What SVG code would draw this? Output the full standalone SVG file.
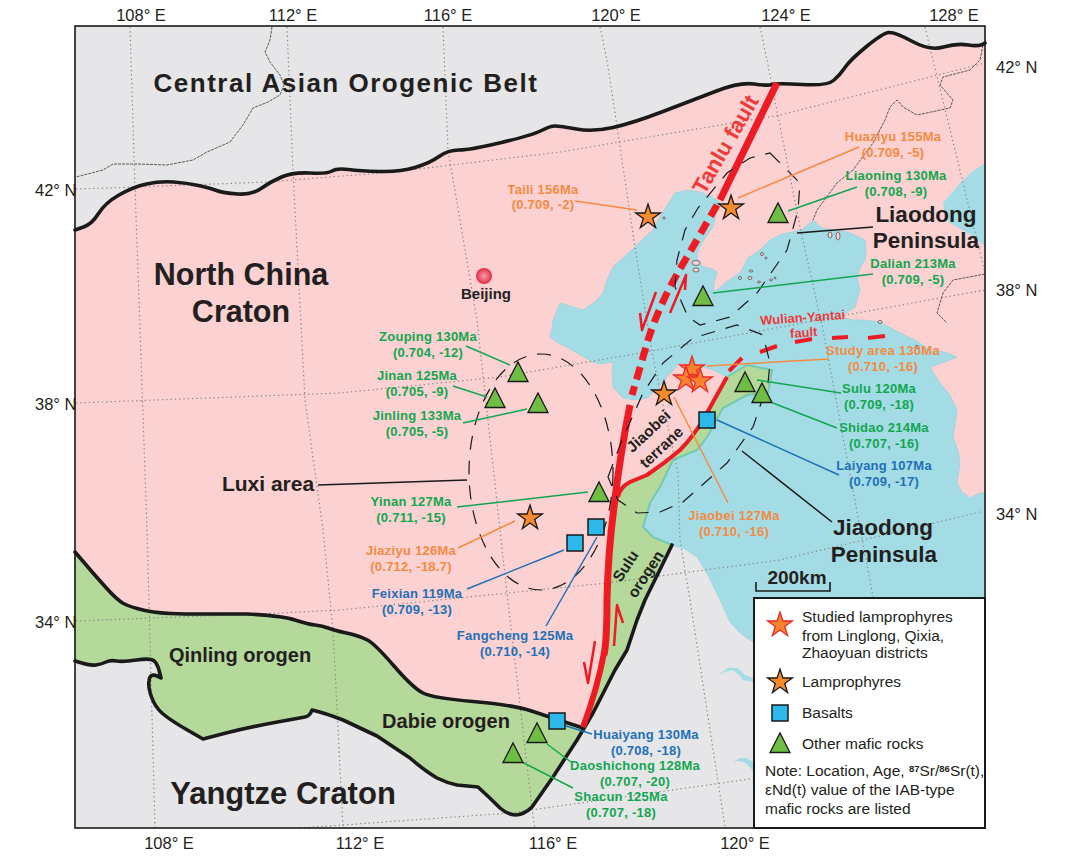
<svg xmlns="http://www.w3.org/2000/svg" width="1073" height="866" viewBox="0 0 1073 866">
<style>
text{font-family:"Liberation Sans",Arial,sans-serif;fill:#231f20}
.ax{font-size:16.5px}
.m{text-anchor:middle}
.lb{font-size:13px;font-weight:700;text-anchor:middle;letter-spacing:.25px}
.o{fill:#f58a42}.g{fill:#12a650}.b{fill:#1f70b6}
.big{font-weight:700;text-anchor:middle}
.lg{font-size:15.5px;fill:#231f20}
.grid{fill:none;stroke:#858585;stroke-width:1.2;stroke-dasharray:1.3 3}
.bd{fill:none;stroke:#4a4a4a;stroke-width:.9;stroke-dasharray:3 1}
.blk{fill:none;stroke:#1a1a1a;stroke-width:3.6;stroke-linejoin:round;stroke-linecap:round}
.red{fill:none;stroke:#ed1c24;stroke-linejoin:round}
.ell{fill:none;stroke:#1a1a1a;stroke-width:1.2;stroke-dasharray:14 11}
.lo,.lg1,.lb1,.lk{fill:none;stroke-width:1.5}
.lo{stroke:#f58a42}.lg1{stroke:#12a650}.lb1{stroke:#1f70b6}.lk{stroke:#1a1a1a}
.st{fill:#f68b2e;stroke:#1a1a1a;stroke-width:1.3;stroke-linejoin:miter}
.sr{fill:#f6832e;stroke:#ed2a2a;stroke-width:1.3}
.tr{fill:#6fbe44;stroke:#1a1a1a;stroke-width:1.3}
.sq{fill:#2cb9ea;stroke:#1a1a1a;stroke-width:1.5}
</style>
<defs>
<polygon id="star" points="0,-13 2.9,-4 12.4,-4 4.7,1.5 7.6,10.5 0,5 -7.6,10.5 -4.7,1.5 -12.4,-4 -2.9,-4"/>
<polygon id="tri" points="-10,9.5 0,-10 10,9.5"/>
<rect id="sq" x="-8" y="-8" width="16" height="16"/>
<radialGradient id="bj" cx=".5" cy=".5" r=".55"><stop offset="0" stop-color="#f9a0a8"/><stop offset="1" stop-color="#e01f3d"/></radialGradient>
</defs>
<rect width="1073" height="866" fill="#fff"/>
<g id="map">
<rect x="75" y="26" width="910" height="802" fill="#e6e6e8"/>
<path id="ncc" fill="#fbd1d1" d="M75,230L92,224L105,203L133,187L160,181L187,183L210,188L223,193L252,195L270,182L293,172L327,174L337,168L360,171L400,172L430,163L448,150L470,150L533,135L550,126L560,126L593,132L633,123L693,100L740,82L768,86L777,83L827,86L840,75L850,60L883,33L895,32L930,51L957,43L980,47L985,43L985,600L700,520L672,545L645,600L637,620L627,650L615,670L593,713L583,728L550,717L513,705L433,698L413,688L375,644L360,636L333,630L323,626L307,624L283,616L247,614L193,614L160,614L130,607L117,600L93,573L75,552Z"/>
<path id="sea" fill="#a4dce6" stroke="#8fcfdb" stroke-width=".6" d="M675,193L688,190L700,192L712,197L720,202L716,215L713,227L705,238L698,250L697,258L703,267L713,269L717,272L714,283L713,293L703,299L693,300L704,292L717,290L726,282L740,273L748,258L760,250L770,240L782,234L793,232L803,229L813,220L822,228L833,230L848,232L865,240L866,250L865,260L860,268L857,277L860,290L855,307L848,312L843,317L852,320L863,320L880,322L900,333L915,340L930,350L945,352L957,357L945,362L930,367L935,375L940,383L950,395L957,410L955,425L953,437L958,450L960,463L957,483L962,492L970,498L980,493L985,493L985,642L753,642L740,633L730,622L720,600L708,575L697,557L685,549L672,545L653,537L645,532L643,527L647,515L650,503L660,487L667,472L673,460L685,455L697,450L703,444L707,437L713,420L723,408L735,402L747,395L768,393L771,380L772,370L760,368L747,365L727,377L713,370L700,366L680,363L667,377L658,388L647,398L635,400L623,398L613,387L612,375L613,362L600,364L593,362L580,355L567,347L558,343L550,337L552,328L553,320L560,303L570,306L583,310L595,302L603,293L607,280L613,267L625,256L635,247L645,237L653,230L657,222L660,217L668,204Z"/>
<path fill="#a4dce6" d="M985,163L972,172L960,183L950,195L943,203L945,215L950,223L962,230L975,237L985,247Z"/>
<path fill="#a4dce6" d="M717,676L725,672L733,670L740,676L743,680L753,682L753,678L745,675L738,668L728,668Z"/>
<path fill="#a4dce6" d="M733,762L740,758L747,758L753,762L753,771L746,763L738,761Z"/>
<g fill="#fbd1d1" stroke="#444" stroke-width=".7">
<circle cx="664" cy="218" r="1.2"/><ellipse cx="696" cy="263" rx="4" ry="2.5"/><ellipse cx="696" cy="270" rx="3" ry="2"/><circle cx="762" cy="254" r="1.5"/><circle cx="766" cy="258" r="1"/><ellipse cx="751" cy="271" rx="2" ry="1"/><ellipse cx="750" cy="278" rx="2" ry="1.5"/><circle cx="740" cy="278" r="1.5"/><ellipse cx="771" cy="280" rx="1.5" ry="1"/><ellipse cx="759" cy="282" rx="1.5" ry="1"/><circle cx="775" cy="278" r="1"/><ellipse cx="830" cy="235" rx="2" ry="3"/><ellipse cx="838" cy="236" rx="2" ry="4"/><ellipse cx="880" cy="322" rx="2" ry="1.5"/><ellipse cx="917" cy="347" rx="2" ry="1.5"/>
</g>
<path fill="#b5d99a" stroke="#76c8ae" stroke-width="2" stroke-linejoin="round" d="M618,497L623,485L647,475L680,450L703,420L727,377L747,365L772,370L768,393L747,395L723,408L707,437L697,450L673,460L660,487L650,503L643,527L653,537L672,545L645,600L637,620L627,650L615,670L593,713L583,728L597,683L605,650L608,600L608,553L613,507Z"/>
<path fill="#b5d99a" stroke="#76c8ae" stroke-width="1" d="M75,552L93,573L117,600L130,607L160,614L193,614L247,614L283,616L307,624L323,626L333,630L360,636L375,644L413,688L433,698L513,705L550,717L583,728L577,740L553,777L532,807L515,815L500,808L478,787L457,785L437,778L410,758L377,736L343,720L312,710L305,717L250,727L203,739L170,720L155,707L148,687L150,675L161,678L157,663L150,658L123,662L110,660L102,664L90,666L75,661Z"/>
<g id="grid">
<path class="grid" d="M130,27L135,187L139,300L147,530L150,640L155,828"/>
<path class="grid" d="M287,27L293,172L305,400L323,530L333,630L343,828"/>
<path class="grid" d="M443,27L448,150L477,320L500,530L507,593L533,817L535,828"/>
<path class="grid" d="M600,27L607,60L635,247L652,353L678,473L680,540L690,600L725,827"/>
<path class="grid" d="M760,27L767,60L800,227L823,330L873,597"/>
<path class="grid" d="M925,27L933,60L985,273"/>
<path class="grid" d="M76,189L135,187L267,182L393,172L560,152L780,115L985,63"/>
<path class="grid" d="M76,403L340,393L500,377L640,353L857,313L985,290"/>
<path class="grid" d="M76,621L280,613L340,610L607,583L780,560L980,512"/>
<path class="grid" d="M300,828L343,825L510,813L757,778"/>
</g>
<path class="bd" d="M272,27L270,40L265,52L270,62L280,75L284,85L280,95L268,102L253,108L243,125L230,142L207,152L193,160L167,165L137,164L113,164L103,170L76,177"/>
<path class="bd" d="M983,45L980,60L970,70L943,77L940,85L953,100L950,108L917,115L903,107L897,100L890,107L885,120L873,143L853,170L837,183L817,210L813,220"/>
<path class="bd" d="M985,274L953,280L943,293L937,313L947,323"/>
<path class="blk" d="M75,230L83.5,227Q92,224 98.5,213.5Q105,203 119,195Q133,187 146.5,184Q160,181 173.5,182Q187,183 198.5,185.5Q210,188 216.5,190.5Q223,193 237.5,194Q252,195 261,188.5Q270,182 281.5,177Q293,172 310,173Q327,174 332,171Q337,168 348.5,169.5Q360,171 380,171.5Q400,172 415,167.5Q430,163 439,156.5Q448,150 459,150Q470,150 501.5,142.5Q533,135 541.5,130.5Q550,126 555,126Q560,126 576.5,129Q593,132 613,127.5Q633,123 663,111.5Q693,100 716.5,91Q740,82 754,84Q768,86 772.5,84.5Q777,83 802,84.5Q827,86 833.5,80.5Q840,75 845,67.5Q850,60 866.5,46.5Q883,33 889,32.5Q895,32 912.5,41.5Q930,51 943.5,47Q957,43 968.5,45Q980,47 985,43"/>
<path class="blk" d="M75,552L93,573L105,586.5Q117,600 123.5,603.5Q130,607 145,610.5Q160,614 193,614L247,614Q283,616 295,620Q307,624 315,625Q323,626 328,628Q333,630 346.5,633Q360,636 367.5,640Q375,644 394,666Q413,688 423,693Q433,698 473,701.5Q513,705 531.5,711Q550,717 583,728"/>
<path class="blk" d="M75,661Q90,666 96,665Q102,664 106,662Q110,660 116.5,661Q123,662 136.5,660Q150,658 153.5,660.5Q157,663 159,670L161,678Q150,671 149,681Q148,687 151.5,697Q155,707 162.5,713.5Q170,720 186.5,729.5L203,739L226,733Q250,727 277.5,722L305,717Q310,716 312,710Q325,713 343,720Q360,728 377,736L410,758Q425,771 437,778Q447,783 457,785L478,787Q490,798 500,808Q508,815 515,815Q524,815 532,807L553,777L577,740L593,713L615,670L627,650Q632,635 637,620L645,600L672,545"/>
<g id="faults">
<path class="red" stroke-width="7" d="M777,83L720,200"/>
<path class="red" stroke-width="7" stroke-dasharray="13 7" d="M717,205L687,257Q675,277 667,293Q655,318 648,340L632,395"/>
<path class="red" stroke-width="7" d="M630,405Q620,455 614,507Q608,553 607,600Q607,640 604,655"/>
<path class="red" stroke-width="6" d="M604,653Q597,690 583,727"/>
<path class="red" stroke-width="4" d="M618,497Q620,487 630,482L647,475Q665,463 680,450Q693,437 703,420L727,377"/>
<path class="red" stroke-width="4" d="M729,371L742,358M760,352L777,346M795,342L812,339M832,338L848,337M868,338L885,336"/>
<g class="red" stroke-width="2.5">
<path d="M656,292L642,330L640,313"/>
<path d="M670,313L686,275L685,290"/>
<path d="M595,641L588,683L584,662"/>
<path d="M614,646L617,605L623,623"/>
</g>
</g>
<g id="areas">
<ellipse class="ell" cx="541" cy="472" rx="72" ry="118"/>
<path class="ell" d="M608,477L622,440L643,393L663,363L693,338L737,325L763,335L770,363L768,383L753,427L727,463L683,502L660,512L637,513L618,500Z"/>
<path class="ell" d="M770,153L800,183L798,210L787,250L757,293L730,317L700,325L688,317L675,287L677,260L685,230L698,208L727,173L750,158Z"/>
</g>
</g>
<rect x="75" y="26" width="910" height="802" fill="none" stroke="#1a1a1a" stroke-width="1.6"/>
<g id="connectors">
<path class="lo" d="M575,201L637,210M738,198L859,147M707,366L829,359M674,397L728,503M458,548L515,521"/>
<path class="lg1" d="M788,211L857,187M713,293L873,274M757,380L841,393M773,403L837,428M466,346L510,365M453,386L487,397M463,423L527,409M457,507L588,492M547,744L571,762M522,762L573,788"/>
<path class="lb1" d="M717,420L839,475M467,589L564,550M546,626L597,537M566,726L592,734"/>
<path class="lk" d="M797,233L873,227M742,451L832,522M318,485L467,480"/>
</g>
<g id="axis-labels">
<text class="ax m" x="141" y="21">108° E</text><text class="ax m" x="293" y="21">112° E</text><text class="ax m" x="448" y="21">116° E</text><text class="ax m" x="616" y="21">120° E</text><text class="ax m" x="786" y="21">124° E</text><text class="ax m" x="954" y="21">128° E</text>
<text class="ax m" x="169" y="849">108° E</text><text class="ax m" x="360" y="849">112° E</text><text class="ax m" x="553" y="849">116° E</text><text class="ax m" x="745" y="849">120° E</text>
<text class="ax" x="35" y="196">42° N</text><text class="ax" x="35" y="410">38° N</text><text class="ax" x="35" y="628">34° N</text>
<text class="ax" x="996" y="73">42° N</text><text class="ax" x="996" y="296">38° N</text><text class="ax" x="996" y="520">34° N</text>
</g>
<g id="region-labels">
<text class="big" x="346" y="92" font-size="26" letter-spacing="1.5">Central Asian Orogenic Belt</text>
<text class="big" x="241" y="285" font-size="30.5">North China</text>
<text class="big" x="241" y="322" font-size="30.5">Craton</text>
<text class="big" x="283" y="804" font-size="31">Yangtze Craton</text>
<text class="big" x="926" y="222" font-size="22.5">Liaodong</text>
<text class="big" x="926" y="248" font-size="22.5">Peninsula</text>
<text class="big" x="883" y="535" font-size="22.5">Jiaodong</text>
<text class="big" x="884" y="562" font-size="22.5">Peninsula</text>
<text class="big" x="268" y="491" font-size="21">Luxi area</text>
<text class="big" x="240" y="662" font-size="20">Qinling orogen</text>
<text class="big" x="446" y="728" font-size="20">Dabie orogen</text>
<text class="big" transform="translate(652,435) rotate(-43)" font-size="15.5">Jiaobei</text>
<text class="big" transform="translate(665,451) rotate(-43)" font-size="15.5">terrane</text>
<text class="big" transform="translate(630,569) rotate(-57)" font-size="15.5">Sulu</text>
<text class="big" transform="translate(650,577) rotate(-57)" font-size="15.5">orogen</text>
<text class="big" transform="translate(732,148) rotate(-60)" font-size="22" style="fill:#ed3a3a">Tanlu fault</text>
<text class="big" transform="translate(803,322) rotate(-4)" font-size="13" style="fill:#ed3a3a">Wulian-Yantai</text>
<text class="big" transform="translate(804,337) rotate(-4)" font-size="13" style="fill:#ed3a3a">fault</text>
</g>
<g id="beijing"><circle cx="484" cy="276" r="8" fill="url(#bj)"/><text class="m" x="486" y="299" font-size="15" font-weight="700">Beijing</text></g>
<g id="taili"><use href="#star" class="st" x="648" y="217"/><text class="lb o" x="543" y="194">Taili 156Ma</text><text class="lb o" x="543" y="209">(0.709, -2)</text></g>
<g id="huaziyu"><use href="#star" class="st" x="731" y="208"/><text class="lb o" x="893" y="141">Huaziyu 155Ma</text><text class="lb o" x="893" y="157">(0.709, -5)</text></g>
<g id="liaoning"><use href="#tri" class="tr" x="778" y="213"/><text class="lb g" x="896" y="180">Liaoning 130Ma</text><text class="lb g" x="896" y="196">(0.708, -9)</text></g>
<g id="dalian"><use href="#tri" class="tr" x="703" y="296"/><text class="lb g" x="913" y="268">Dalian 213Ma</text><text class="lb g" x="913" y="284">(0.709, -5)</text></g>
<g id="study-area"><use href="#star" class="sr" x="692" y="369"/><use href="#star" class="sr" x="686" y="379"/><use href="#star" class="sr" x="700" y="381"/><text class="lb o" x="883" y="355">Study area 130Ma</text><text class="lb o" x="883" y="371">(0.710, -16)</text></g>
<g id="jiaobei"><use href="#star" class="st" x="664" y="394"/><text class="lb o" x="734" y="520">Jiaobei 127Ma</text><text class="lb o" x="734" y="536">(0.710, -16)</text></g>
<g id="sulu"><use href="#tri" class="tr" x="745" y="382"/><text class="lb g" x="879" y="393">Sulu 120Ma</text><text class="lb g" x="879" y="409">(0.709, -18)</text></g>
<g id="shidao"><use href="#tri" class="tr" x="762" y="393"/><text class="lb g" x="884" y="432">Shidao 214Ma</text><text class="lb g" x="884" y="448">(0.707, -16)</text></g>
<g id="laiyang"><use href="#sq" class="sq" x="707" y="420"/><text class="lb b" x="884" y="470">Laiyang 107Ma</text><text class="lb b" x="884" y="486">(0.709, -17)</text></g>
<g id="zouping"><use href="#tri" class="tr" x="518" y="372"/><text class="lb g" x="428" y="341">Zouping 130Ma</text><text class="lb g" x="428" y="357">(0.704, -12)</text></g>
<g id="jinan"><use href="#tri" class="tr" x="495" y="398"/><text class="lb g" x="417" y="380">Jinan 125Ma</text><text class="lb g" x="417" y="396">(0.705, -9)</text></g>
<g id="jinling"><use href="#tri" class="tr" x="538" y="403"/><text class="lb g" x="417" y="420">Jinling 133Ma</text><text class="lb g" x="417" y="436">(0.705, -5)</text></g>
<g id="yinan"><use href="#tri" class="tr" x="599" y="492"/><text class="lb g" x="411" y="506">Yinan 127Ma</text><text class="lb g" x="411" y="522">(0.711, -15)</text></g>
<g id="jiaziyu"><use href="#star" class="st" x="530" y="518"/><text class="lb o" x="411" y="555">Jiaziyu 126Ma</text><text class="lb o" x="411" y="571">(0.712, -18.7)</text></g>
<g id="feixian"><use href="#sq" class="sq" x="575" y="543"/><text class="lb b" x="417" y="598">Feixian 119Ma</text><text class="lb b" x="417" y="614">(0.709, -13)</text></g>
<g id="fangcheng"><use href="#sq" class="sq" x="596" y="527"/><text class="lb b" x="515" y="640">Fangcheng 125Ma</text><text class="lb b" x="515" y="656">(0.710, -14)</text></g>
<g id="huaiyang"><use href="#sq" class="sq" x="557" y="721"/><text class="lb b" x="646" y="739">Huaiyang 130Ma</text><text class="lb b" x="646" y="755">(0.708, -18)</text></g>
<g id="daoshichong"><use href="#tri" class="tr" x="537" y="733"/><text class="lb g" x="635" y="770">Daoshichong 128Ma</text><text class="lb g" x="635" y="786">(0.707, -20)</text></g>
<g id="shacun"><use href="#tri" class="tr" x="513" y="753"/><text class="lb g" x="621" y="801">Shacun 125Ma</text><text class="lb g" x="621" y="817">(0.707, -18)</text></g>
<g id="scale"><path d="M756,582V591H830V582" fill="none" stroke="#1a1a1a" stroke-width="1.6"/><text class="big" x="797" y="584" font-size="19">200km</text></g>
<g id="legend">
<rect x="754" y="598" width="231" height="230" fill="#fff" stroke="#1a1a1a" stroke-width="2"/>
<use href="#star" class="sr" x="780" y="625"/><text class="lg" x="802" y="622">Studied lamprophyres</text><text class="lg" x="802" y="641">from Linglong, Qixia,</text><text class="lg" x="802" y="658">Zhaoyuan districts</text>
<use href="#star" class="st" x="780" y="682"/><text class="lg" x="802" y="687">Lamprophyres</text>
<use href="#sq" class="sq" x="780" y="713"/><text class="lg" x="802" y="718">Basalts</text>
<use href="#tri" class="tr" x="780" y="743"/><text class="lg" x="802" y="749">Other mafic rocks</text>
<text class="lg" x="765" y="776">Note: Location, Age, <tspan font-size="9.5" dy="-4" font-weight="700">87</tspan><tspan dy="4">Sr/</tspan><tspan font-size="9.5" dy="-4" font-weight="700">86</tspan><tspan dy="4">Sr(t),</tspan></text>
<text class="lg" x="765" y="795">εNd(t) value of the IAB-type</text>
<text class="lg" x="765" y="814">mafic rocks are listed</text>
</g>
</svg>
